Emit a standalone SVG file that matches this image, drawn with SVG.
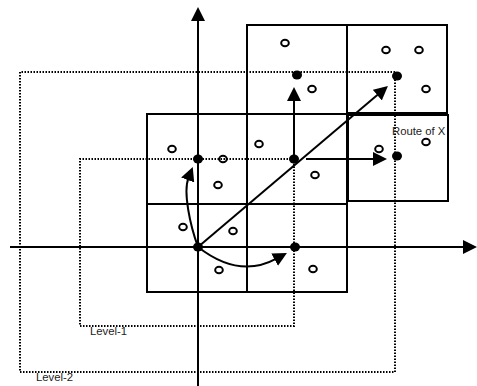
<svg xmlns="http://www.w3.org/2000/svg" width="477" height="386" viewBox="0 0 477 386">
<style>
.cell{fill:none;stroke:#000;stroke-width:2}
.lvl{fill:none;stroke:#000;stroke-width:2;stroke-dasharray:1.5 1.5}
.pt{fill:#000}
.obj{fill:none;stroke:#000;stroke-width:2}
.ax{fill:none;stroke:#000;stroke-width:2;marker-end:url(#ah)}
.lbl{font-family:"Liberation Sans",Arial,sans-serif;font-size:11.3px;fill:#222}
</style>
<defs>
<marker id="ah" markerUnits="userSpaceOnUse" markerWidth="14" markerHeight="14" refX="2" refY="7" orient="auto">
<path d="M0,0 L14,7 L0,14 z" fill="#000"/>
</marker>
</defs>
<rect width="477" height="386" fill="#fff"/>
<g id="cells">
<rect id="cell-top-mid" class="cell" x="247" y="25" width="100" height="89"/>
<rect id="cell-top-right" class="cell" x="347" y="25" width="100" height="88"/>
<rect id="cell-mid-left" class="cell" x="147" y="114" width="100" height="90"/>
<rect id="cell-mid-mid" class="cell" x="247" y="114" width="100" height="90"/>
<rect id="cell-mid-right" class="cell" x="348" y="115" width="100" height="86"/>
<rect id="cell-low-left" class="cell" x="147" y="204" width="100" height="88"/>
<rect id="cell-low-mid" class="cell" x="247" y="204" width="100" height="88"/>
</g>
<g id="level-1">
<path class="lvl" d="M294,159 L80,159 L80,326 L294,326 Z"/>
<text class="lbl" x="90" y="335">Level-1</text>
</g>
<g id="level-2">
<path class="lvl" d="M395,72 L20,72 L20,372 L395,372 Z"/>
<text class="lbl" x="36" y="381">Level-2</text>
</g>
<g id="route-label">
<text class="lbl" x="392" y="135">Route of X</text>
</g>
<g id="objects">
<ellipse class="obj" cx="285" cy="43" rx="3.8" ry="3.2"/>
<ellipse class="obj" cx="312" cy="89" rx="3.8" ry="3.2"/>
<ellipse class="obj" cx="386" cy="50" rx="3.8" ry="3.2"/>
<ellipse class="obj" cx="419" cy="50" rx="3.8" ry="3.2"/>
<ellipse class="obj" cx="426" cy="89" rx="3.8" ry="3.2"/>
<ellipse class="obj" cx="379" cy="149" rx="3.8" ry="3.2"/>
<ellipse class="obj" cx="426" cy="142" rx="3.8" ry="3.2"/>
<ellipse class="obj" cx="172" cy="149" rx="3.8" ry="3.2"/>
<ellipse class="obj" cx="223" cy="159" rx="3.8" ry="3.2"/>
<ellipse class="obj" cx="218" cy="185" rx="3.8" ry="3.2"/>
<ellipse class="obj" cx="259" cy="144" rx="3.8" ry="3.2"/>
<ellipse class="obj" cx="315" cy="175" rx="3.8" ry="3.2"/>
<ellipse class="obj" cx="183" cy="227" rx="3.8" ry="3.2"/>
<ellipse class="obj" cx="233" cy="231" rx="3.8" ry="3.2"/>
<ellipse class="obj" cx="219" cy="270" rx="3.8" ry="3.2"/>
<ellipse class="obj" cx="313" cy="269" rx="3.8" ry="3.2"/>
</g>
<g id="axes">
<path class="ax" d="M198,386 L198,19"/>
<path class="ax" d="M10,247 L465,247"/>
</g>
<g id="connectors">
<path class="ax" d="M198,247 L378.8,93.8"/>
<path class="ax" d="M294,159 L294,99"/>
<path class="ax" d="M306,159 L375,159"/>
<path class="ax" d="M198,247 C190,225 183,192 188.4,178.1"/>
<path class="ax" d="M198,247 C225,268 252,272 276.4,258.7"/>
</g>
<g id="points">
<ellipse class="pt" cx="198" cy="247" rx="5" ry="4.5"/>
<ellipse class="pt" cx="295" cy="247" rx="5" ry="4.5"/>
<ellipse class="pt" cx="198" cy="159" rx="5" ry="4.5"/>
<ellipse class="pt" cx="294" cy="159" rx="5" ry="4.5"/>
<ellipse class="pt" cx="297" cy="75" rx="5" ry="4.5"/>
<ellipse class="pt" cx="397" cy="76" rx="5" ry="4.5"/>
<ellipse class="pt" cx="397" cy="156" rx="5" ry="4.5"/>
</g>
</svg>
